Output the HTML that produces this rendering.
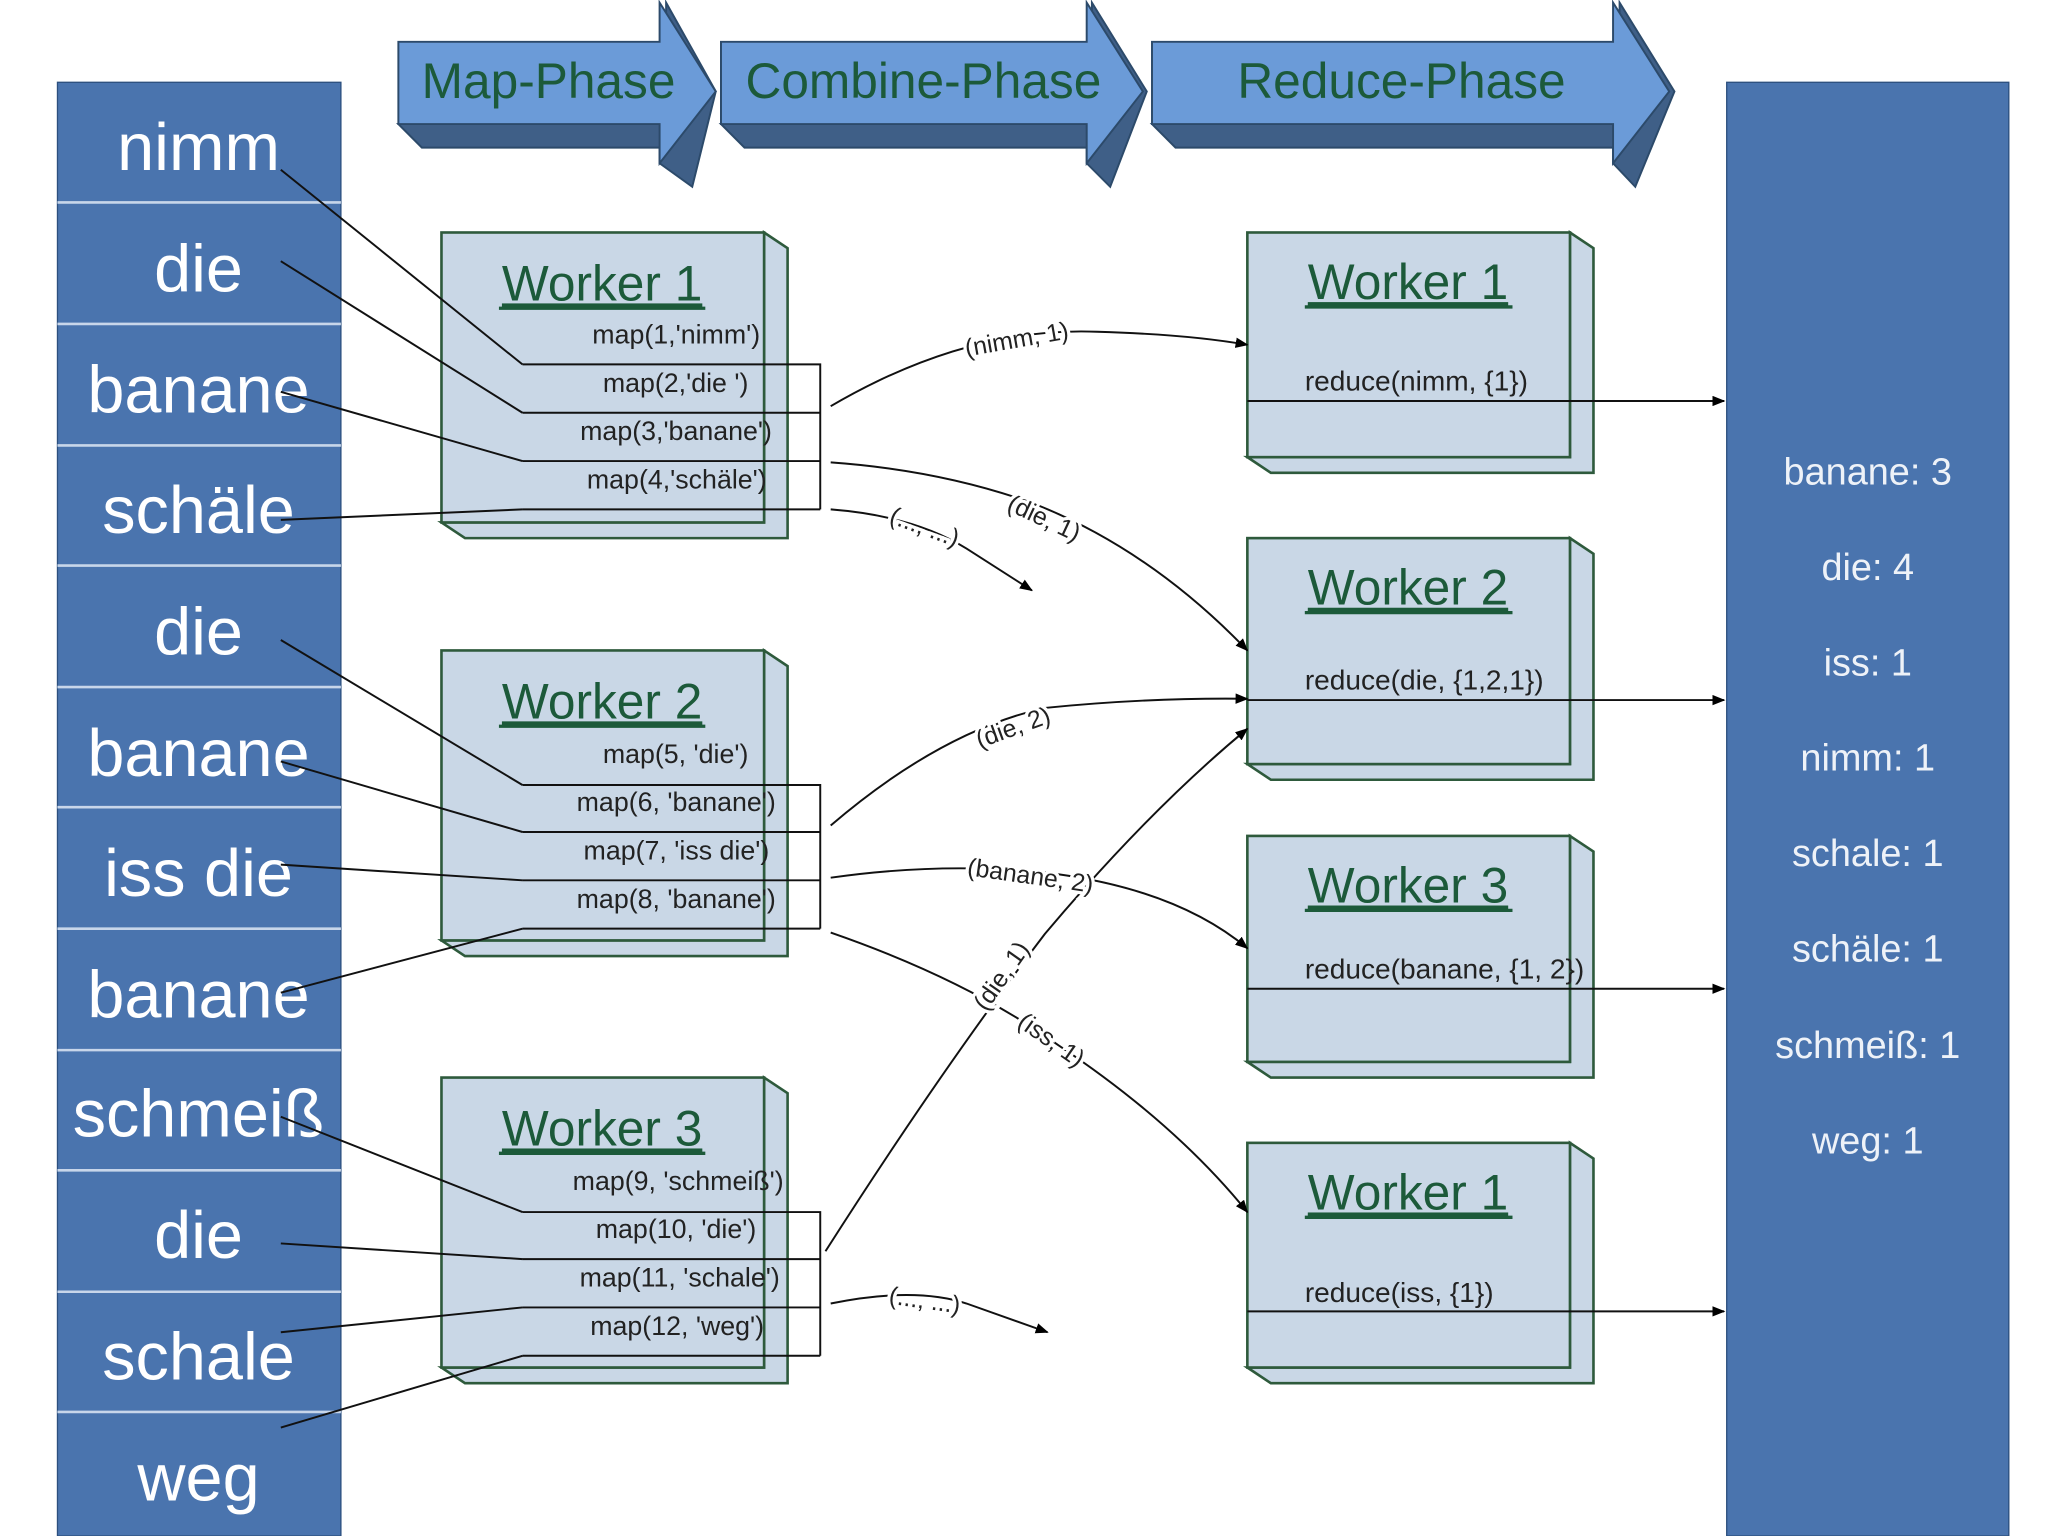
<!DOCTYPE html>
<html><head><meta charset="utf-8"><style>
html,body{margin:0;padding:0;background:#fff;width:2048px;height:1536px;overflow:hidden}
svg{display:block}
text{font-family:"Liberation Sans",sans-serif}
</style></head><body>
<svg width="2048" height="1536" viewBox="0 0 1568 1176" preserveAspectRatio="none" xmlns="http://www.w3.org/2000/svg">
<defs>
<marker id="ar" markerWidth="10" markerHeight="8" refX="9" refY="4" orient="auto" markerUnits="userSpaceOnUse"><path d="M0,0 L10,4 L0,8 z" fill="#000"/></marker>
</defs>
<rect width="1568" height="1176" fill="#fff"/>
<rect x="44" y="63" width="217" height="1113" fill="#4a74ae" stroke="#2c4f7e" stroke-width="1"/>
<g stroke="#c8d6ea" stroke-width="2">
<line x1="44" y1="155" x2="261" y2="155"/><line x1="44" y1="248" x2="261" y2="248"/><line x1="44" y1="341" x2="261" y2="341"/><line x1="44" y1="433" x2="261" y2="433"/><line x1="44" y1="526" x2="261" y2="526"/><line x1="44" y1="618" x2="261" y2="618"/><line x1="44" y1="711" x2="261" y2="711"/><line x1="44" y1="804" x2="261" y2="804"/><line x1="44" y1="896" x2="261" y2="896"/><line x1="44" y1="989" x2="261" y2="989"/><line x1="44" y1="1081" x2="261" y2="1081"/>
</g>
<g fill="#fff" font-size="51" text-anchor="middle">
<text x="152" y="130">nimm</text><text x="152" y="223">die</text><text x="152" y="316">banane</text><text x="152" y="408">schäle</text><text x="152" y="501">die</text><text x="152" y="594">banane</text><text x="152" y="686">iss die</text><text x="152" y="779">banane</text><text x="152" y="870">schmeiß</text><text x="152" y="963">die</text><text x="152" y="1056">schale</text><text x="152" y="1149">weg</text>
</g>
<rect x="1322" y="63" width="216" height="1113" fill="#4a74ae" stroke="#2c4f7e" stroke-width="1"/>
<g fill="#eef2f8" font-size="29" text-anchor="middle">
<text x="1430" y="371">banane: 3</text><text x="1430" y="444">die: 4</text><text x="1430" y="517">iss: 1</text><text x="1430" y="590">nimm: 1</text><text x="1430" y="663">schale: 1</text><text x="1430" y="736">schäle: 1</text><text x="1430" y="810">schmeiß: 1</text><text x="1430" y="883">weg: 1</text>
</g>
<g stroke="#2c4a6a" stroke-width="1.5">
<path d="M305,95 L323,113 L505,113 L505,125 L530,143 L548,70 L510,2 L510,95 Z" fill="#3f5f87"/>
<path d="M305,32 L505,32 L505,2 L548,70 L505,125 L505,95 L305,95 Z" fill="#6b9bd8"/>
<path d="M552,95 L570,113 L832,113 L832,125 L850,143 L878,70 L836,2 L836,95 Z" fill="#3f5f87"/>
<path d="M552,32 L832,32 L832,2 L875,70 L832,125 L832,95 L552,95 Z" fill="#6b9bd8"/>
<path d="M882,95 L900,113 L1235,113 L1235,125 L1252,143 L1282,70 L1240,2 L1240,95 Z" fill="#3f5f87"/>
<path d="M882,32 L1235,32 L1235,2 L1278,70 L1235,125 L1235,95 L882,95 Z" fill="#6b9bd8"/>
</g>
<g fill="#1c5a3a" font-size="38" text-anchor="middle">
<text x="420" y="75">Map-Phase</text><text x="707" y="75">Combine-Phase</text><text x="1073" y="75">Reduce-Phase</text>
</g>
<g fill="#c9d7e6" stroke="#2e5a3c" stroke-width="2">
<path d="M585,178 L603,190 L603,412 L356,412 L338,400 L585,400 Z"/><rect x="338" y="178" width="247" height="222"/>
<path d="M585,498 L603,510 L603,732 L356,732 L338,720 L585,720 Z"/><rect x="338" y="498" width="247" height="222"/>
<path d="M585,825 L603,837 L603,1059 L356,1059 L338,1047 L585,1047 Z"/><rect x="338" y="825" width="247" height="222"/>
<path d="M1202,178 L1220,190 L1220,362 L973,362 L955,350 L1202,350 Z"/><rect x="955" y="178" width="247" height="172"/>
<path d="M1202,412 L1220,424 L1220,597 L973,597 L955,585 L1202,585 Z"/><rect x="955" y="412" width="247" height="173"/>
<path d="M1202,640 L1220,652 L1220,825 L973,825 L955,813 L1202,813 Z"/><rect x="955" y="640" width="247" height="173"/>
<path d="M1202,875 L1220,887 L1220,1059 L973,1059 L955,1047 L1202,1047 Z"/><rect x="955" y="875" width="247" height="172"/>
</g>
<g fill="#1c5a3a" font-size="38" text-anchor="middle" text-decoration="underline">
<text x="461" y="230">Worker 1</text><text x="461" y="550">Worker 2</text><text x="461" y="877">Worker 3</text>
<text x="1078" y="229">Worker 1</text><text x="1078" y="463">Worker 2</text><text x="1078" y="691">Worker 3</text><text x="1078" y="926">Worker 1</text>
</g>
<g stroke="#1c5a3a" stroke-width="2.5">
<line x1="382" y1="236" x2="540" y2="236"/><line x1="382" y1="556" x2="540" y2="556"/><line x1="382" y1="883" x2="540" y2="883"/>
<line x1="999" y1="235" x2="1158" y2="235"/><line x1="999" y1="469" x2="1158" y2="469"/><line x1="999" y1="697" x2="1158" y2="697"/><line x1="999" y1="932" x2="1158" y2="932"/>
</g>
<g fill="#222" font-size="20.5" text-anchor="end">
<text x="582" y="263">map(1,'nimm')</text><text x="573" y="300">map(2,'die ')</text><text x="591" y="337">map(3,'banane')</text><text x="587" y="374">map(4,'schäle')</text>
<text x="573" y="584">map(5, 'die')</text><text x="594" y="621">map(6, 'banane')</text><text x="589" y="658">map(7, 'iss die')</text><text x="594" y="695">map(8, 'banane')</text>
<text x="600" y="911">map(9, 'schmeiß')</text><text x="579" y="948">map(10, 'die')</text><text x="597" y="985">map(11, 'schale')</text><text x="585" y="1022">map(12, 'weg')</text>
</g>
<g fill="#222" font-size="21.5">
<text x="999" y="299">reduce(nimm, {1})</text><text x="999" y="528">reduce(die, {1,2,1})</text><text x="999" y="749">reduce(banane, {1, 2})</text><text x="999" y="997">reduce(iss, {1})</text>
</g>
<g stroke="#111" stroke-width="1.5" fill="none">
<path d="M400,279 H628 V390 M400,316 H628 M400,353 H628 M400,390 H628"/>
<path d="M400,601 H628 V711 M400,637 H628 M400,674 H628 M400,711 H628"/>
<path d="M400,928 H628 V1038 M400,964 H628 M400,1001 H628 M400,1038 H628"/>
<line x1="215" y1="130" x2="400" y2="279"/><line x1="215" y1="200" x2="400" y2="316"/><line x1="215" y1="300" x2="400" y2="353"/><line x1="215" y1="398" x2="400" y2="390"/>
<line x1="215" y1="490" x2="400" y2="601"/><line x1="215" y1="583" x2="400" y2="637"/><line x1="215" y1="662" x2="400" y2="674"/><line x1="215" y1="760" x2="400" y2="711"/>
<line x1="215" y1="855" x2="400" y2="928"/><line x1="215" y1="952" x2="400" y2="964"/><line x1="215" y1="1020" x2="400" y2="1001"/><line x1="215" y1="1093" x2="400" y2="1038"/>
<line x1="955" y1="307" x2="1320" y2="307" marker-end="url(#ar)"/>
<line x1="955" y1="536" x2="1320" y2="536" marker-end="url(#ar)"/>
<line x1="955" y1="757" x2="1320" y2="757" marker-end="url(#ar)"/>
<line x1="955" y1="1004" x2="1320" y2="1004" marker-end="url(#ar)"/>
<path d="M636,311 Q740,250 840,254 Q910,256 955,264" marker-end="url(#ar)"/>
<path d="M636,354 Q720,360 790,385 Q880,420 955,498" marker-end="url(#ar)"/>
<path d="M636,390 Q700,395 740,420 L790,452" marker-end="url(#ar)"/>
<path d="M636,632 Q720,560 800,542 Q880,534 955,535" marker-end="url(#ar)"/>
<path d="M636,672 Q720,660 800,668 Q900,680 955,726" marker-end="url(#ar)"/>
<path d="M636,714 Q740,750 810,800 Q900,860 955,928" marker-end="url(#ar)"/>
<path d="M632,958 Q720,820 800,715 Q880,620 955,558" marker-end="url(#ar)"/>
<path d="M636,998 Q700,985 740,998 L802,1020" marker-end="url(#ar)"/>
</g>
<g fill="#222" font-size="19" stroke="#fff" stroke-width="5" paint-order="stroke">
<text x="740" y="273" transform="rotate(-10 740 273)">(nimm, 1)</text>
<text x="770" y="390" transform="rotate(25 770 390)">(die, 1)</text>
<text x="680" y="400" transform="rotate(20 680 400)">(..., ...)</text>
<text x="750" y="573" transform="rotate(-20 750 573)">(die, 2)</text>
<text x="740" y="670" transform="rotate(8 740 670)">(banane, 2)</text>
<text x="778" y="785" transform="rotate(35 778 785)">(iss, 1)</text>
<text x="755" y="775" transform="rotate(-55 755 775)">(die, 1)</text>
<text x="680" y="998" transform="rotate(8 680 998)">(..., ...)</text>
</g>
</svg>
</body></html>
